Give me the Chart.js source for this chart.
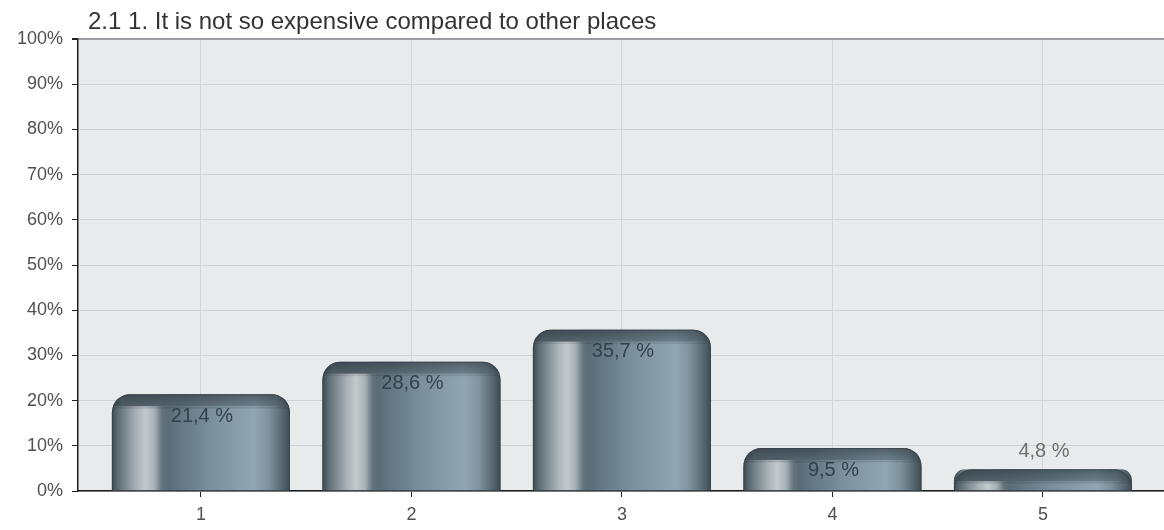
<!DOCTYPE html>
<html>
<head>
<meta charset="utf-8">
<script src="https://cdn.jsdelivr.net/npm/chart.js@4/dist/chart.umd.min.js"></script>
<style>
  html, body { margin: 0; padding: 0; background: #ffffff; }
  #wrap { width: 1164px; height: 530px; position: relative; }
</style>
</head>
<body>
<div id="wrap"><canvas id="chart" width="1164" height="530"></canvas></div>
<script>
// Survey question and answer distribution
const chartTitle = '2.1 1. It is not so expensive compared to other places';
const categories = ['1', '2', '3', '4', '5'];
const shares = [21.4, 28.6, 35.7, 9.5, 4.8];          // percent of answers
const yTickValues = [0, 10, 20, 30, 40, 50, 60, 70, 80, 90, 100];

// positions of the answer options on the numeric x axis
const positions = categories.map((_, i) => i + 1);
const valueLabels = shares.map(v => v.toFixed(1).replace('.', ',') + ' %');

const FONT = "'Liberation Sans', Arial, Helvetica, sans-serif";
const BAR_PCT = 0.846;

// cylinder-like horizontal shading for each bar
function barFill(c) {
  const base = '#6c7e89';
  if (c.type !== 'data') return base;
  const chart = c.chart;
  const xs = chart.scales && chart.scales.x;
  if (!xs || !chart.chartArea) return base;
  const cx = xs.getPixelForValue(c.raw.x);
  const step = xs.getPixelForValue(2) - xs.getPixelForValue(1);
  const w = step * BAR_PCT;
  const g = chart.ctx.createLinearGradient(cx - w / 2, 0, cx + w / 2, 0);
  g.addColorStop(0.00, '#3c4850');
  g.addColorStop(0.03, '#5a6870');
  g.addColorStop(0.08, '#7f8c93');
  g.addColorStop(0.14, '#a9b3b8');
  g.addColorStop(0.19, '#c3cacd');
  g.addColorStop(0.24, '#a5b0b5');
  g.addColorStop(0.28, '#65757e');
  g.addColorStop(0.31, '#5a6c77');
  g.addColorStop(0.55, '#7a8f9b');
  g.addColorStop(0.80, '#92a6b2');
  g.addColorStop(0.88, '#7f929d');
  g.addColorStop(0.95, '#5b6b74');
  g.addColorStop(1.00, '#3e4b53');
  return g;
}

const RADIUS = 18;

function roundedTopPath(ctx, left, top, right, bottom, r) {
  const rr = Math.min(r, (right - left) / 2, bottom - top);
  ctx.beginPath();
  ctx.moveTo(left, bottom);
  ctx.lineTo(left, top + rr);
  ctx.arcTo(left, top, left + rr, top, rr);
  ctx.lineTo(right - rr, top);
  ctx.arcTo(right, top, right, top + rr, rr);
  ctx.lineTo(right, bottom);
  ctx.closePath();
}

const backdrop = {
  id: 'backdrop',
  beforeDraw(chart) {
    const { ctx, chartArea: a } = chart;
    ctx.save();
    ctx.fillStyle = '#ffffff';
    ctx.fillRect(0, 0, chart.width, chart.height);
    ctx.fillStyle = '#e8eaec';
    ctx.fillRect(a.left, a.top, a.right - a.left, a.bottom - a.top);
    ctx.restore();
  },
  afterDraw(chart) {
    const { ctx, chartArea: a } = chart;
    ctx.save();
    ctx.font = '24px ' + FONT;
    ctx.fillStyle = '#333333';
    ctx.textAlign = 'left';
    ctx.textBaseline = 'alphabetic';
    ctx.fillText(chartTitle, a.left + 10, 29);
    ctx.restore();
  }
};

const barDecor = {
  id: 'barDecor',
  afterDatasetsDraw(chart) {
    const { ctx } = chart;
    const meta = chart.getDatasetMeta(0);
    meta.data.forEach((el, i) => {
      const { x, y, base, width } = el.getProps(['x', 'y', 'base', 'width'], true);
      const left = x - width / 2, right = x + width / 2;
      const top = Math.min(y, base), bottom = Math.max(y, base);
      const lip = Math.min(12, bottom - top);

      // darker rim along the rounded top
      ctx.save();
      roundedTopPath(ctx, left, top, right, bottom, RADIUS);
      ctx.clip();
      const lg = ctx.createLinearGradient(left, 0, right, 0);
      lg.addColorStop(0.00, '#3a454c');
      lg.addColorStop(0.06, '#4e5c64');
      lg.addColorStop(0.40, '#56666f');
      lg.addColorStop(0.80, '#6d808b');
      lg.addColorStop(0.92, '#5d6e78');
      lg.addColorStop(1.00, '#3c484f');
      ctx.fillStyle = lg;
      ctx.fillRect(left, top, width, lip);
      const vg = ctx.createLinearGradient(0, top, 0, top + lip + 3);
      vg.addColorStop(0, 'rgba(30,40,48,0.35)');
      vg.addColorStop(0.8, 'rgba(30,40,48,0.0)');
      vg.addColorStop(0.9, 'rgba(30,40,48,0.18)');
      vg.addColorStop(1, 'rgba(30,40,48,0.0)');
      ctx.fillStyle = vg;
      ctx.fillRect(left, top, width, lip + 3);
      ctx.restore();

      // outline of the rounded top
      ctx.save();
      roundedTopPath(ctx, left + 0.5, top + 0.5, right - 0.5, bottom, RADIUS);
      ctx.strokeStyle = 'rgba(55,66,74,0.8)';
      ctx.lineWidth = 1;
      ctx.stroke();
      ctx.restore();

      // value label
      ctx.save();
      ctx.font = '20px ' + FONT;
      ctx.textAlign = 'center';
      ctx.textBaseline = 'middle';
      if (bottom - top > 32) {
        ctx.fillStyle = '#34414a';
        ctx.fillText(valueLabels[i], x + 1, top + 22);
      } else {
        ctx.fillStyle = '#707070';
        ctx.fillText(valueLabels[i], x + 1, top - 18);
      }
      ctx.restore();
    });
  }
};

new Chart(document.getElementById('chart'), {
  type: 'bar',
  data: {
    datasets: [{
      data: positions.map((p, i) => ({ x: p, y: shares[i] })),
      backgroundColor: barFill,
      borderWidth: 0,
      borderRadius: { topLeft: RADIUS, topRight: RADIUS, bottomLeft: 0, bottomRight: 0 },
      borderSkipped: 'bottom',
      barPercentage: BAR_PCT,
      categoryPercentage: 1
    }]
  },
  options: {
    responsive: false,
    animation: false,
    devicePixelRatio: 1,
    layout: { padding: { top: 39, left: 0, right: 0, bottom: 0 } },
    plugins: {
      legend: { display: false },
      title: { display: false },
      tooltip: { enabled: false }
    },
    scales: {
      x: {
        type: 'linear',
        min: 0.416,
        max: 5.575,
        offset: false,
        afterBuildTicks(scale) {
          scale.ticks = positions.map(v => ({ value: v }));
        },
        afterFit(scale) { scale.height = 39; },
        ticks: {
          callback: (v) => categories[positions.indexOf(v)],
          font: { family: FONT, size: 18 },
          color: '#505050',
          padding: 7,
          maxRotation: 0,
          autoSkip: false
        },
        grid: {
          offset: false,
          color: '#d2d5d8',
          lineWidth: 1,
          tickColor: '#222222',
          tickLength: 6
        },
        border: { color: '#1e1e1e', width: 1.5 }
      },
      y: {
        type: 'linear',
        min: 0,
        max: 100,
        afterBuildTicks(scale) {
          scale.ticks = yTickValues.map(v => ({ value: v }));
        },
        afterFit(scale) { scale.width = 78; },
        ticks: {
          callback: (v) => v + '%',
          font: { family: FONT, size: 18 },
          color: '#505050',
          padding: 9
        },
        grid: {
          color: (c) => c.tick && c.tick.value === 100 ? '#9c9fa1' : '#d0d3d5',
          lineWidth: (c) => c.tick && c.tick.value === 100 ? 2 : 1,
          tickColor: '#222222',
          tickLength: 6
        },
        border: { color: '#1e1e1e', width: 1.5 }
      }
    }
  },
  plugins: [backdrop, barDecor]
});
</script>
</body>
</html>
